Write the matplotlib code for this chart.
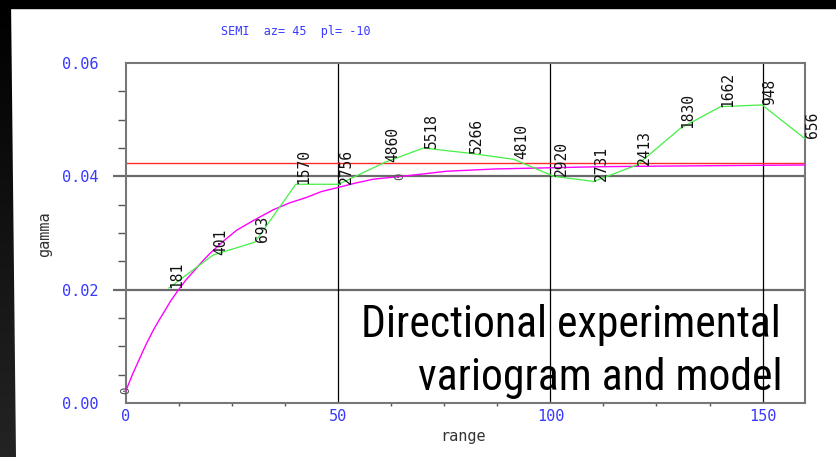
import matplotlib
matplotlib.use("Agg")
import matplotlib.pyplot as plt
import numpy as np
from matplotlib import font_manager
from matplotlib.patches import Polygon, Rectangle
from matplotlib.ticker import FixedLocator

# ---------------- data ----------------
lags = [10.1, 20.5, 30.4, 40.0, 50.1, 61.1, 70.1, 80.7, 91.4, 100.8,
        110.2, 120.4, 130.7, 140.1, 149.9, 159.9]
gammas = [0.0203, 0.0261, 0.0284, 0.0386, 0.0386, 0.0425, 0.0450, 0.0441,
          0.0430, 0.0400, 0.0391, 0.0420, 0.0485, 0.0523, 0.0526, 0.0467]
pairs = ["181", "401", "693", "1570", "2756", "4860", "5518", "5266",
         "4810", "2920", "2731", "2413", "1830", "1662", "948", "656"]

model_h = [0, 1.5, 3, 4.7, 6.4, 7.7, 9, 10.6, 12.3, 14, 16, 18, 19.8, 23,
           26.1, 30, 34.7, 38.5, 42.6, 46, 49.8, 54, 58.3, 65, 75.6, 87,
           99.2, 112, 125.9, 142, 160]
model_g = [0.0022, 0.0050, 0.0075, 0.0103, 0.0128, 0.0145, 0.0161, 0.0181,
           0.0199, 0.0216, 0.0233, 0.0250, 0.0264, 0.0286, 0.0305, 0.0322,
           0.0341, 0.0353, 0.0363, 0.0373, 0.0380, 0.0388, 0.0395, 0.0400,
           0.0409, 0.0413, 0.0415, 0.0417, 0.0418, 0.0419, 0.0420]

sill = 0.0423
zero_h = [0.0, 64.5]
zero_g = [0.0022, 0.0400]

x_ticks = [0, 50, 100, 150]
x_ticklabels = ["0", "50", "100", "150"]
y_ticks = [0.00, 0.02, 0.04, 0.06]
y_ticklabels = ["0.00", "0.02", "0.04", "0.06"]
x_minor = [12.5, 25, 37.5, 62.5, 75, 87.5, 112.5, 125, 137.5]
y_minor = [0.005, 0.010, 0.015, 0.025, 0.030, 0.035, 0.045, 0.050, 0.055]

title = "SEMI  az= 45  pl= -10"
xlabel = "range"
ylabel = "gamma"
note_line1 = "Directional experimental"
note_line2 = "variogram and model"

# ---------------- figure ----------------
W, H = 836, 457
plt.rcParams['font.family'] = ['DejaVu Sans Mono']
fig = plt.figure(figsize=(W / 100, H / 100), dpi=100)
fig.patch.set_facecolor('white')


def fx(px):
    return px / W


def fy(py):
    return 1 - py / H


# slide-like dark bands on the left and top edges
bg = fig.add_axes([0, 0, 1, 1], zorder=-5)
bg.axis('off')
grad = np.linspace(0.0, 0.14, 200).reshape(-1, 1)
im = bg.imshow(grad, cmap='gray', vmin=0, vmax=1, extent=[0, 17, H, 0],
               aspect='auto', interpolation='bilinear')
bg.set_xlim(0, W)
bg.set_ylim(H, 0)
poly = Polygon([[0, 0], [11, 0], [16, H], [0, H]], closed=True,
               transform=bg.transData)
im.set_clip_path(poly)
bg.add_patch(Rectangle((0, 0), W, 8, color='black'))

# main axes
ax = fig.add_axes([fx(126), fy(403), (805 - 126) / W, (403 - 63) / H])
ax.set_xlim(0, 160)
ax.set_ylim(0, 0.06)
ax.set_facecolor('none')

ax.hlines([0.02, 0.04], -3.0, 160, colors='#6a6a6a', lw=1.6,
          clip_on=False, zorder=1)
for v in [50, 100, 150]:
    ax.axvline(v, color='black', lw=0.9, zorder=1)
ax.axhline(sill, color='#ff2a2a', lw=1.0, zorder=2)
ax.plot(model_h, model_g, color='#ff00ff', lw=1.0, zorder=3)
ax.plot(lags, gammas, color='#44f044', lw=0.9, zorder=3)

for h, g, n in zip(lags, gammas, pairs):
    ax.text(h, g, n, rotation=90, ha='left', va='bottom',
            fontsize=10.5, color='#111111', zorder=5)
for h, g in zip(zero_h, zero_g):
    ax.text(h, g, "0", rotation=90, ha='center', va='center',
            fontsize=9, color='#555555', zorder=5, clip_on=False)

for s in ax.spines.values():
    s.set_color('#777777')
    s.set_linewidth(1.5)

ax.set_xticks(x_ticks)
ax.set_xticklabels(x_ticklabels)
ax.set_yticks(y_ticks)
ax.set_yticklabels(y_ticklabels)
ax.tick_params(axis='both', which='major', length=0, labelcolor='#3838ff',
               labelsize=11)
ax.tick_params(axis='x', which='major', pad=4)
ax.tick_params(axis='y', which='major', pad=20)
ax.xaxis.set_minor_locator(FixedLocator(x_minor))
ax.yaxis.set_minor_locator(FixedLocator(y_minor))
ax.tick_params(axis='x', which='minor', length=2.5, direction='out',
               color='#555555', width=1)
ax.tick_params(axis='y', which='minor', length=6, direction='out',
               color='#555555', width=1)

# title and axis labels
fig.text(fx(221), fy(32), title, ha='left', va='center', fontsize=8.5,
         color='#3838ff')
fig.text(fx(463), fy(437), xlabel, ha='center', va='center', fontsize=11,
         color='#333333')
fig.text(fx(45), fy(234), ylabel, ha='center', va='center', fontsize=11,
         color='#333333', rotation=90)


def has_font(name):
    try:
        font_manager.findfont(font_manager.FontProperties(family=name),
                              fallback_to_default=False)
        return True
    except Exception:
        return False


nfam, nsize = 'Liberation Sans', 28
for cand, size in [('Liberation Sans Narrow', 34), ('Arial Narrow', 34),
                   ('Roboto Condensed', 31.5), ('Open Sans Condensed', 32)]:
    if has_font(cand):
        nfam, nsize = cand, size
        break

fig.text(fx(781), fy(336.7), note_line1, ha='right', va='baseline',
         fontsize=nsize, family=nfam, color='black', zorder=10)
fig.text(fx(783), fy(390), note_line2, ha='right', va='baseline',
         fontsize=nsize, family=nfam, color='black', zorder=10)

fig.savefig('out.png', dpi=100, facecolor='white')
